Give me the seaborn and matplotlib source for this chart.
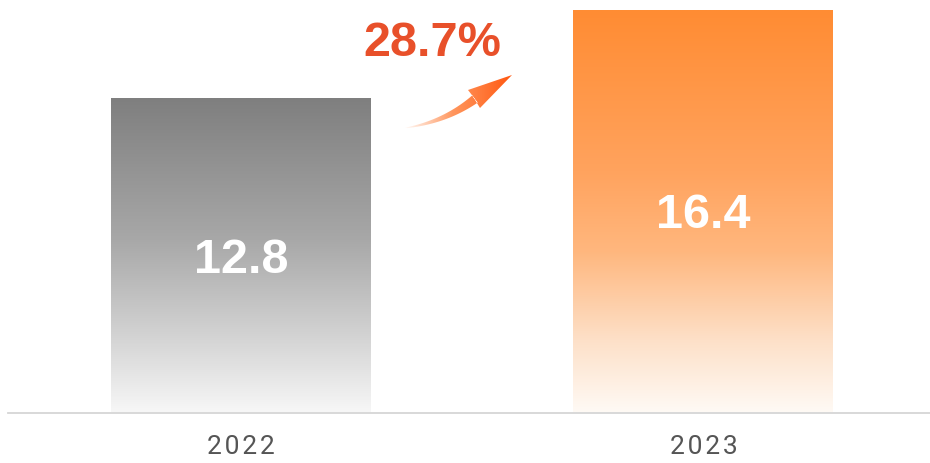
import numpy as np
import pandas as pd
import matplotlib
matplotlib.use("Agg")
import matplotlib.pyplot as plt
import matplotlib.transforms as mtransforms
from matplotlib.path import Path
from matplotlib.patches import PathPatch
from matplotlib.colors import LinearSegmentedColormap
import seaborn as sns

# data
years = ["2022", "2023"]
values = [12.8, 16.4]
growth_label = "28.7%"

df = pd.DataFrame({"year": years, "value": values})

sns.set_theme(style="white")
plt.rcParams["font.family"] = ["Liberation Sans", "DejaVu Sans"]

fig = plt.figure(figsize=(9.3, 4.63), dpi=100)
ax = fig.add_axes([8 / 930, 50 / 463, 922 / 930, 413 / 463])

sns.barplot(data=df, x="year", y="value", width=0.562, ax=ax, color="gray")

ax.set_xlim(-0.504, 1.49)
ax.set_ylim(0, 16.4 * 413 / 403)

# gradient fills, top colour -> near white at the base
grad_stops = [
    [(0.0, "#f7f7f7"), (0.25, "#d2d2d2"), (0.55, "#a8a8a8"), (1.0, "#7f7f7f")],
    [(0.0, "#fffaf5"), (0.18, "#fde0c8"), (0.4, "#ffb77e"), (0.6, "#ffa35e"), (1.0, "#ff8c33")],
]
grad = np.linspace(0, 1, 256).reshape(-1, 1)
down = mtransforms.offset_copy(ax.transData, fig=fig, x=0, y=-17, units="dots")
for patch, stops in zip(ax.patches, grad_stops):
    cmap = LinearSegmentedColormap.from_list("g", stops)
    x0, y0 = patch.get_x(), patch.get_y()
    w, h = patch.get_width(), patch.get_height()
    im = ax.imshow(grad, cmap=cmap, aspect="auto", origin="lower",
                   extent=[x0, x0 + w, y0, y0 + h], zorder=2)
    im.set_clip_path(patch)
    patch.set_facecolor("none")
    patch.set_edgecolor("none")
    ax.text(x0 + w / 2, h / 2, f"{h:.1f}", ha="center", va="baseline",
            transform=down, color="white", fontsize=35, fontweight="bold", zorder=3)

ax.set_xlim(-0.504, 1.49)
ax.set_ylim(0, 16.4 * 413 / 403)

sns.despine(ax=ax, left=True)
ax.spines["bottom"].set_color("#d6d6d6")
ax.spines["bottom"].set_linewidth(1.3)
ax.set_yticks([])
ax.set_xlabel("")
ax.set_ylabel("")
ax.set_xticks([0, 1])
ax.set_xticklabels(["\u200a".join(y) for y in years])
for lab in ax.get_xticklabels():
    lab.set_fontsize(19)
    lab.set_color("#555555")
    lab.set_fontfamily(["Roboto", "DejaVu Sans"])
ax.tick_params(axis="x", length=0, pad=16)

# growth arrow drawn in pixel space on an overlay
ov = fig.add_axes([0, 0, 1, 1])
ov.set_xlim(0, 930)
ov.set_ylim(463, 0)
ov.axis("off")

t = np.linspace(0, 1, 40)
p0, p1, p2 = np.array([405, 128]), np.array([445, 122]), np.array([475, 99])
curve = ((1 - t) ** 2)[:, None] * p0 + (2 * (1 - t) * t)[:, None] * p1 + (t ** 2)[:, None] * p2
d = np.gradient(curve, axis=0)
nrm = np.stack([-d[:, 1], d[:, 0]], axis=1)
nrm /= np.linalg.norm(nrm, axis=1)[:, None]
half = 0.3 + 4.2 * t
upper = curve + nrm * half[:, None]
lower = curve - nrm * half[:, None]
poly = np.vstack([lower, [[480, 108]], [[512, 75]], [[468, 90]], upper[::-1]])
arrow = PathPatch(Path(poly, closed=True), facecolor="none", edgecolor="none")
ov.add_patch(arrow)
acmap = LinearSegmentedColormap.from_list(
    "a", [(0, (1, 0.45, 0.15, 0.0)), (0.45, (1, 0.45, 0.15, 0.75)), (1, (1, 0.33, 0.05, 1.0))])
hg = np.linspace(0, 1, 256).reshape(1, -1)
aim = ov.imshow(hg, cmap=acmap, aspect="auto", extent=[403, 514, 130, 72], zorder=3)
aim.set_clip_path(arrow)

ov.text(432, 44, growth_label, ha="center", va="center", fontsize=35,
        fontweight="bold", color="#e8502a")

fig.savefig("out.png", dpi=100)
